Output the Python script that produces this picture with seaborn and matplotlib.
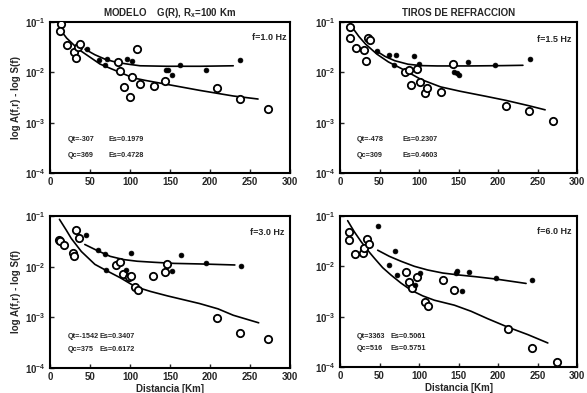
import matplotlib
matplotlib.use("Agg")
import matplotlib.pyplot as plt
import seaborn as sns
import pandas as pd
from matplotlib.ticker import LogLocator, FixedLocator

sns.set_style("ticks")
plt.rcParams["font.family"] = ["Liberation Sans", "DejaVu Sans"]
plt.rcParams["font.weight"] = "bold"
plt.rcParams["mathtext.fontset"] = "custom"
plt.rcParams["mathtext.rm"] = "Liberation Sans:bold"
plt.rcParams["mathtext.it"] = "Liberation Sans:bold"
plt.rcParams["mathtext.bf"] = "Liberation Sans:bold"

# ---------------- f = 1.0 Hz ----------------
open_x_10 = [13.7, 13, 21, 30, 32.5, 34.6, 37.5, 85.4, 88, 92.5, 102, 100, 109, 112, 130, 144, 209, 238, 272]
open_y_10 = [0.090, 0.065, 0.035, 0.025, 0.019, 0.032, 0.036, 0.016, 0.0105, 0.0052, 0.008, 0.0032,
             0.029, 0.0059, 0.0054, 0.0066, 0.0048, 0.0030, 0.0019]
fill_x_10 = [46.7, 61.7, 71, 69, 96, 102, 145, 147, 153, 162.5, 194.6, 238]
fill_y_10 = [0.029, 0.0175, 0.018, 0.014, 0.018, 0.017, 0.0113, 0.011, 0.0090, 0.014, 0.0112, 0.0175]
qc_x_10 = [12.5, 20.8, 35.4, 50, 62.5, 77, 104, 119, 150, 187.5, 229, 260]
qc_y_10 = [0.0716, 0.0479, 0.0288, 0.0200, 0.0146, 0.0117, 0.00776, 0.00692, 0.00562, 0.00437, 0.00339, 0.00295]
qt_x_10 = [43.75, 56, 69, 83, 98, 112.5, 146, 187.5, 229]
qt_y_10 = [0.0288, 0.0224, 0.0182, 0.0158, 0.0145, 0.0135, 0.0132, 0.0132, 0.0135]

# ---------------- f = 1.5 Hz ----------------
open_x_15 = [12.4, 12.4, 19.8, 30.2, 33, 35, 38.4, 82.6, 86.8, 90, 97.5, 101, 107.4, 110.7, 128, 143, 210, 239, 270]
open_y_15 = [0.079, 0.048, 0.030, 0.0277, 0.017, 0.048, 0.044, 0.0102, 0.011, 0.0057, 0.0115, 0.0065,
             0.0039, 0.0049, 0.0041, 0.0145, 0.0021, 0.0017, 0.00107]
fill_x_15 = [46.7, 62, 70.7, 68.6, 94, 100.4, 144, 148, 151, 162, 195.5, 240]
fill_y_15 = [0.026, 0.022, 0.0222, 0.0141, 0.0207, 0.0145, 0.0103, 0.0099, 0.0089, 0.0157, 0.0139, 0.0188]
qc_x_15 = [14.9, 24, 32.2, 46.7, 61.2, 77.7, 102.5, 127.3, 152, 185, 210, 239, 259.5]
qc_y_15 = [0.0805, 0.0514, 0.0366, 0.0230, 0.0161, 0.0119, 0.00723, 0.00514, 0.00421, 0.00333,
           0.00277, 0.00217, 0.00180]
qt_x_15 = [45.5, 57, 69.4, 86, 102.5, 123, 164.5, 206, 231.4]
qt_y_15 = [0.0269, 0.0207, 0.0170, 0.0145, 0.0136, 0.0134, 0.0134, 0.0136, 0.0138]

# ---------------- f = 3.0 Hz ----------------
open_x_30 = [11, 13, 18, 29, 30.5, 33, 36, 82.7, 87.8, 91, 98.3, 101.7, 106.8, 110, 128.7, 143.5, 146, 209, 238, 272]
open_y_30 = [0.0333, 0.0318, 0.0265, 0.019, 0.0165, 0.054, 0.036, 0.0107, 0.0124, 0.0071, 0.0062, 0.0064,
             0.0040, 0.0035, 0.0064, 0.0078, 0.0111, 0.00098, 0.00050, 0.00038]
fill_x_30 = [44.7, 59.5, 68.8, 70, 95.4, 101.7, 153, 164, 195, 239]
fill_y_30 = [0.042, 0.0218, 0.0181, 0.0085, 0.0085, 0.0186, 0.0081, 0.0168, 0.0118, 0.0102]
qc_x_30 = [11.8, 20.3, 26.6, 39.2, 56.1, 70, 87.8, 106.8, 125.7, 146.8, 187, 210, 229, 260.8]
qc_y_30 = [0.0859, 0.0527, 0.0360, 0.0199, 0.0111, 0.00845, 0.00604, 0.00401, 0.00324, 0.00265,
           0.00187, 0.00147, 0.00110, 0.00078]
qt_x_30 = [43.5, 58.2, 75.1, 92, 108.9, 130, 155.3, 189, 231]
qt_y_30 = [0.0274, 0.0211, 0.0160, 0.0138, 0.0128, 0.0122, 0.0116, 0.0113, 0.0108]

# ---------------- f = 6.0 Hz ----------------
open_x_60 = [11, 11.8, 19.4, 29.5, 30, 33.8, 36.3, 83.5, 87.8, 90.7, 97.5, 107.6, 111.8, 130, 143.9, 212, 242.6, 274]
open_y_60 = [0.0486, 0.0341, 0.0179, 0.0188, 0.023, 0.0357, 0.0284, 0.0078, 0.0049, 0.0037, 0.0062, 0.0020,
             0.0016, 0.0053, 0.0034, 0.00057, 0.00024, 0.000128]
fill_x_60 = [47.7, 70, 62.4, 71.7, 95.4, 101.3, 147.7, 146.8, 154, 163.7, 197.5, 243]
fill_y_60 = [0.063, 0.020, 0.0105, 0.0066, 0.0043, 0.0075, 0.0081, 0.0074, 0.0032, 0.0077, 0.0059, 0.0054]
qc_x_60 = [9.7, 18.1, 26.6, 35, 43.5, 54, 64.6, 77.2, 89.9, 104.6, 119.4, 144.7, 165.8, 186.9, 212.2, 237.6, 262.9]
qc_y_60 = [0.0807, 0.0486, 0.0311, 0.0209, 0.0145, 0.0094, 0.0067, 0.00464, 0.00336, 0.00259, 0.00212,
           0.00169, 0.00128, 0.00091, 0.00062, 0.00044, 0.00030]
qt_x_60 = [47.7, 62.4, 77.2, 94.1, 111, 130, 151, 172, 197.5, 235.4]
qt_y_60 = [0.0209, 0.0158, 0.0126, 0.0100, 0.00845, 0.00736, 0.00671, 0.00621, 0.00558, 0.00457]

freq_labels = ["f=1.0 Hz", "f=1.5 Hz", "f=3.0 Hz", "f=6.0 Hz"]
qt_labels = ["Qt=-307", "Qt=-478", "Qt=-1542", "Qt=3363"]
es_t_labels = ["Es=0.1979", "Es=0.2307", "Es=0.3407", "Es=0.5061"]
qc_labels = ["Qc=369", "Qc=309", "Qc=375", "Qc=516"]
es_c_labels = ["Es=0.4728", "Es=0.4603", "Es=0.6172", "Es=0.5751"]
panel_titles = ["MODELO    G(R), R$_x$=100 Km", "TIROS DE REFRACCION", None, None]

panels = [
    (open_x_10, open_y_10, fill_x_10, fill_y_10, qc_x_10, qc_y_10, qt_x_10, qt_y_10),
    (open_x_15, open_y_15, fill_x_15, fill_y_15, qc_x_15, qc_y_15, qt_x_15, qt_y_15),
    (open_x_30, open_y_30, fill_x_30, fill_y_30, qc_x_30, qc_y_30, qt_x_30, qt_y_30),
    (open_x_60, open_y_60, fill_x_60, fill_y_60, qc_x_60, qc_y_60, qt_x_60, qt_y_60),
]

# axes rectangles [left, bottom, width, height] in figure fraction
rects = [
    [0.0852, 0.5598, 0.4089, 0.3842],
    [0.5792, 0.5598, 0.4040, 0.3842],
    [0.0852, 0.0636, 0.4089, 0.3868],
    [0.5792, 0.0662, 0.4040, 0.3842],
]
es_x = [0.245, 0.265, 0.205, 0.212]
txt_y = [(0.219, 0.119), (0.219, 0.119), (0.206, 0.123), (0.205, 0.124)]
f_pos = [(0.985, 0.90), (0.975, 0.887), (0.975, 0.89), (0.975, 0.896)]

fig = plt.figure(figsize=(5.87, 3.93), dpi=100)

for i, (ox, oy, fx, fy, cx, cy, tx, ty) in enumerate(panels):
    ax = fig.add_axes(rects[i])
    ax.set_yscale("log")

    df_c = pd.DataFrame({"dist": cx, "amp": cy})
    df_t = pd.DataFrame({"dist": tx, "amp": ty})
    df_o = pd.DataFrame({"dist": ox, "amp": oy})
    df_f = pd.DataFrame({"dist": fx, "amp": fy})

    sns.lineplot(data=df_c, x="dist", y="amp", ax=ax, color="black", lw=1.2,
                 sort=False, estimator=None, zorder=2)
    sns.lineplot(data=df_t, x="dist", y="amp", ax=ax, color="black", lw=1.2,
                 sort=False, estimator=None, zorder=2)
    sns.scatterplot(data=df_o, x="dist", y="amp", ax=ax, marker="o", s=28,
                    facecolor="white", edgecolor="black", linewidth=1.3, zorder=3)
    sns.scatterplot(data=df_f, x="dist", y="amp", ax=ax, marker="o", s=12,
                    color="black", edgecolor="black", linewidth=0.5, zorder=4)

    ax.set_xlim(0, 300)
    ax.set_ylim(1e-4, 1e-1)
    ax.xaxis.set_major_locator(FixedLocator([0, 50, 100, 150, 200, 250, 300]))
    ax.yaxis.set_major_locator(LogLocator(base=10, numticks=10))
    ax.yaxis.set_minor_locator(LogLocator(base=10, subs=[], numticks=10))
    ax.tick_params(axis="both", which="major", direction="in", length=3, width=1.0,
                   labelsize=7, pad=3, top=False, right=False)
    for lab in ax.get_xticklabels() + ax.get_yticklabels():
        lab.set_fontweight("bold")
    for sp in ax.spines.values():
        sp.set_visible(True)
        sp.set_linewidth(1.5)
        sp.set_color("black")

    ax.set_xlabel("Distancia [Km]" if i >= 2 else "", fontsize=7, fontweight="bold", labelpad=1)
    ax.set_ylabel("log A(f,r) - log S(f)" if i % 2 == 0 else "", fontsize=7,
                  fontweight="bold", labelpad=3)
    if panel_titles[i]:
        ax.set_title(panel_titles[i], fontsize=7, fontweight="bold", pad=4)

    ax.text(f_pos[i][0], f_pos[i][1], freq_labels[i], transform=ax.transAxes,
            ha="right", va="center", fontsize=6.5, fontweight="bold")
    ax.text(0.072, txt_y[i][0], qt_labels[i], transform=ax.transAxes,
            ha="left", va="center", fontsize=5.2, fontweight="bold")
    ax.text(es_x[i], txt_y[i][0], es_t_labels[i], transform=ax.transAxes,
            ha="left", va="center", fontsize=5.2, fontweight="bold")
    ax.text(0.072, txt_y[i][1], qc_labels[i], transform=ax.transAxes,
            ha="left", va="center", fontsize=5.2, fontweight="bold")
    ax.text(es_x[i], txt_y[i][1], es_c_labels[i], transform=ax.transAxes,
            ha="left", va="center", fontsize=5.2, fontweight="bold")

fig.savefig("out.png", dpi=100, facecolor="white")
